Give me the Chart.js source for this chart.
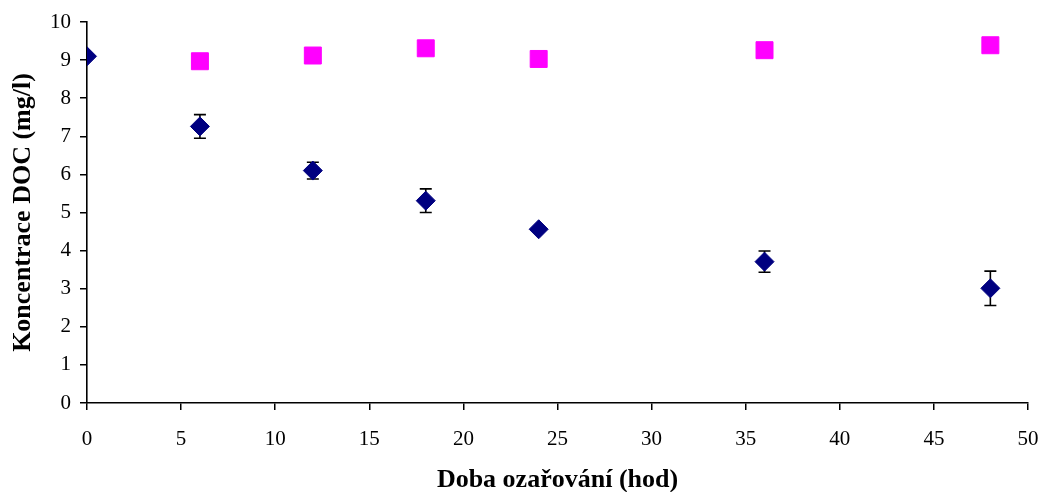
<!DOCTYPE html>
<html>
<head>
<meta charset="utf-8">
<script src="https://cdn.jsdelivr.net/npm/chart.js@4"></script>
<style>
html,body{margin:0;padding:0;background:#fff;}
#wrap{width:1041px;height:492px;position:relative;}
</style>
</head>
<body>
<div id="wrap"><canvas id="c" width="1041" height="492"></canvas></div>
<script>
const hours = [0, 6, 12, 18, 24, 36, 48];
const docBlue = [9.10, 7.26, 6.10, 5.31, 4.56, 3.71, 3.01];
const docBlueErr = [0, 0.31, 0.22, 0.31, 0, 0.28, 0.45];
const hoursPink = [6, 12, 18, 24, 36, 48];
const docPink = [8.97, 9.12, 9.31, 9.03, 9.26, 9.39];
const xTitle = 'Doba ozařování (hod)';
const yTitle = 'Koncentrace DOC (mg/l)';

const FONT = "'Liberation Serif', 'Times New Roman', serif";

const errorBars = {
  id: 'errorBars',
  beforeDatasetsDraw(chart) {
    const ctx = chart.ctx;
    const xs = chart.scales.x, ys = chart.scales.y;
    ctx.save();
    ctx.strokeStyle = '#000';
    ctx.lineWidth = 1.6;
    hours.forEach((h, i) => {
      const e = docBlueErr[i];
      if (!e) return;
      const px = xs.getPixelForValue(h);
      const top = ys.getPixelForValue(docBlue[i] + e);
      const bot = ys.getPixelForValue(docBlue[i] - e);
      const cw = 6;
      ctx.beginPath();
      ctx.moveTo(px, top); ctx.lineTo(px, bot);
      ctx.moveTo(px - cw, top); ctx.lineTo(px + cw, top);
      ctx.moveTo(px - cw, bot); ctx.lineTo(px + cw, bot);
      ctx.stroke();
    });
    ctx.restore();
  }
};

new Chart(document.getElementById('c'), {
  type: 'scatter',
  data: {
    datasets: [
      {
        label: 'B',
        data: hoursPink.map((h, i) => ({x: h, y: docPink[i]})),
        pointStyle: 'rect',
        pointRadius: 12,
        backgroundColor: '#FF00FF',
        borderColor: '#FF00FF',
        borderWidth: 1
      },
      {
        label: 'A',
        data: hours.map((h, i) => ({x: h, y: docBlue[i]})),
        pointStyle: 'rectRot',
        pointRadius: 9.5,
        backgroundColor: '#000080',
        borderColor: '#000080',
        borderWidth: 1
      }
    ]
  },
  options: {
    responsive: false,
    animation: false,
    events: [],
    layout: {padding: {top: 22, right: 13, left: 0, bottom: 0}},
    plugins: {legend: {display: false}, tooltip: {enabled: false}},
    scales: {
      x: {
        type: 'linear',
        min: 0, max: 50,
        afterFit(s) { s.height = 89; s.paddingRight = 0; s.paddingLeft = 0; },
        ticks: {stepSize: 5, color: '#000', font: {family: FONT, size: 21}, padding: 17, maxRotation: 0},
        grid: {drawOnChartArea: false, drawTicks: true, tickLength: 7, color: '#000', lineWidth: 1.5},
        border: {color: '#000', width: 1.6},
        title: {display: true, text: xTitle, color: '#000', font: {family: FONT, size: 26, weight: 'bold'}, padding: {top: 10, bottom: -4}}
      },
      y: {
        type: 'linear',
        min: 0, max: 10,
        afterFit(s) { s.width = 87; s.paddingTop = 0; s.paddingBottom = 0; },
        ticks: {stepSize: 1, color: '#000', font: {family: FONT, size: 21}, padding: 9},
        grid: {drawOnChartArea: false, drawTicks: true, tickLength: 7, color: '#000', lineWidth: 1.5},
        border: {color: '#000', width: 1.6},
        title: {display: true, text: yTitle, color: '#000', font: {family: FONT, size: 26, weight: 'bold'}, padding: {top: 8, bottom: 6}}
      }
    }
  },
  plugins: [errorBars]
});
</script>
</body>
</html>
